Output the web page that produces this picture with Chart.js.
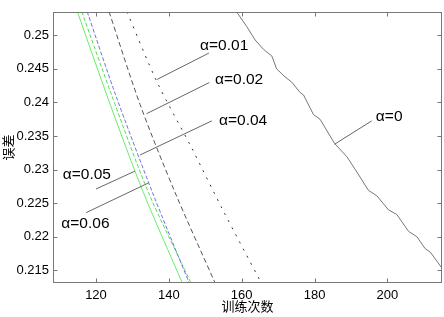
<!DOCTYPE html>
<html lang="zh">
<head>
    <meta charset="UTF-8">
    <title>误差 - 训练次数</title>
    <style>
        html, body { margin: 0; padding: 0; background: #fff; }
        #wrap { width: 444px; height: 317px; }
    </style>
</head>
<body>
    <div id="wrap"><canvas id="errChart" width="444" height="317"></canvas></div>

    <script src="https://cdn.jsdelivr.net/npm/chart.js"></script>
    <script>
        // values: [训练次数, 误差]
        const alpha0 = [
            [158.6, 0.2535], [161.4, 0.2513], [163.7, 0.2493], [166.0, 0.2479],
            [168.3, 0.2469], [169.6, 0.2450], [171.9, 0.2438], [173.8, 0.2430],
            [176.0, 0.2415], [177.0, 0.2411], [179.7, 0.2382], [181.5, 0.2375],
            [185.5, 0.2339], [188.9, 0.2319], [191.2, 0.2300], [194.8, 0.2269],
            [197.1, 0.2261], [200.3, 0.2240], [202.6, 0.2233], [205.8, 0.2208],
            [208.1, 0.2200], [210.4, 0.2182], [211.8, 0.2177], [215.0, 0.2153]
        ];
        const alpha001 = [[128.5, 0.2535], [136.8, 0.2430], [146.1, 0.2334], [155.0, 0.2238], [165.1, 0.2134]];
        const alpha002 = [[123.6, 0.2535], [132.1, 0.2397], [141.7, 0.2266], [152.7, 0.2131]];
        const alpha004 = [[117.6, 0.2535], [125.4, 0.2411], [135.5, 0.2266], [145.6, 0.2131]];
        const alpha005 = [[116.1, 0.2535], [124.3, 0.2411], [134.4, 0.2266], [146.1, 0.2131]];
        const alpha006 = [[114.9, 0.2535], [123.9, 0.2397], [133.0, 0.2266], [143.7, 0.2131]];

        const xTicks = [120, 140, 160, 180, 200];
        const yTicks = [0.215, 0.22, 0.225, 0.23, 0.235, 0.24, 0.245, 0.25];

        // curve labels: text, label centre, pointer start, pointer end (data units)
        const notes = [
            { text: 'α=0',    at: [200.5, 0.23785], from: [195.7, 0.23725], to: [185.5, 0.23377] },
            { text: 'α=0.01', at: [155.2, 0.24851], from: [151.0, 0.24735], to: [136.8, 0.24343] },
            { text: 'α=0.02', at: [159.3, 0.24343], from: [151.1, 0.24296], to: [133.9, 0.23832] },
            { text: 'α=0.04', at: [160.4, 0.23727], from: [151.8, 0.23725], to: [132.1, 0.23217] },
            { text: 'α=0.05', at: [117.5, 0.22923], from: [120.0, 0.22710], to: [130.7, 0.22977] },
            { text: 'α=0.06', at: [117.1, 0.22191], from: [117.3, 0.22358], to: [134.4, 0.22800] }
        ];

        const toPoints = arr => arr.map(p => ({ x: p[0], y: p[1] }));

        function series(data, color, dash, tension) {
            return {
                data: toPoints(data),
                borderColor: color,
                borderWidth: 1,
                borderDash: dash,
                pointRadius: 0,
                tension: tension,
                fill: false
            };
        }

        // matlab style box with inward ticks, plus the curve labels
        const framePlugin = {
            id: 'frame',
            afterDatasetsDraw(chart) {
                const ctx = chart.ctx;
                const a = chart.chartArea;
                const xs = chart.scales.x, ys = chart.scales.y;
                ctx.save();
                ctx.strokeStyle = '#777';
                ctx.lineWidth = 1;
                const l = Math.round(a.left) + 0.5, r = Math.round(a.right) - 0.5;
                const t = Math.round(a.top) + 0.5, b = Math.round(a.bottom) - 0.5;
                ctx.strokeRect(l, t, r - l, b - t);
                ctx.beginPath();
                xTicks.forEach(v => {
                    const px = Math.round(xs.getPixelForValue(v)) + 0.5;
                    ctx.moveTo(px, b); ctx.lineTo(px, b - 4);
                    ctx.moveTo(px, t); ctx.lineTo(px, t + 4);
                });
                yTicks.forEach(v => {
                    const py = Math.round(ys.getPixelForValue(v)) + 0.5;
                    ctx.moveTo(l, py); ctx.lineTo(l + 4, py);
                    ctx.moveTo(r, py); ctx.lineTo(r - 4, py);
                });
                ctx.stroke();

                ctx.strokeStyle = '#666';
                ctx.beginPath();
                notes.forEach(n => {
                    ctx.moveTo(xs.getPixelForValue(n.from[0]), ys.getPixelForValue(n.from[1]));
                    ctx.lineTo(xs.getPixelForValue(n.to[0]), ys.getPixelForValue(n.to[1]));
                });
                ctx.stroke();

                ctx.fillStyle = '#000';
                ctx.font = '15.5px "Liberation Sans", Arial, sans-serif';
                ctx.textAlign = 'center';
                ctx.textBaseline = 'middle';
                notes.forEach(n => {
                    ctx.fillText(n.text, xs.getPixelForValue(n.at[0]), ys.getPixelForValue(n.at[1]));
                });
                ctx.restore();
            }
        };

        const tickFont = { family: '"Liberation Sans", Arial, sans-serif', size: 13 };
        const cjkFont = { family: '"Noto Sans CJK SC", sans-serif', size: 13 };

        new Chart(document.getElementById('errChart').getContext('2d'), {
            type: 'line',
            data: {
                datasets: [
                    series(alpha0, '#777', [], 0),
                    series(alpha001, '#333', [2, 6], 0.3),
                    series(alpha002, '#555', [5, 3], 0.3),
                    series(alpha004, '#7272e6', [4, 2], 0.3),
                    series(alpha005, '#55dd55', [4, 2], 0.3),
                    series(alpha006, '#66ee66', [], 0.3)
                ]
            },
            options: {
                responsive: false,
                animation: false,
                layout: { padding: { top: 4, right: 2, left: 0, bottom: 0 } },
                plugins: { legend: { display: false }, tooltip: { enabled: false } },
                scales: {
                    x: {
                        type: 'linear',
                        min: 108.2,
                        max: 215,
                        afterBuildTicks: axis => { axis.ticks = xTicks.map(v => ({ value: v })); },
                        afterFit: axis => { axis.height = 34; },
                        grid: { display: false, drawTicks: false },
                        border: { display: false },
                        ticks: { color: '#000', font: tickFont, padding: 5, maxRotation: 0 },
                        title: { display: true, text: '训练次数', color: '#000', font: cjkFont, padding: { top: 0, bottom: 3 } }
                    },
                    y: {
                        type: 'linear',
                        min: 0.2131,
                        max: 0.2535,
                        afterBuildTicks: axis => { axis.ticks = yTicks.map(v => ({ value: v })); },
                        afterFit: axis => { axis.width = 53; },
                        grid: { display: false, drawTicks: false },
                        border: { display: false },
                        ticks: { color: '#000', font: tickFont, padding: 4, callback: v => String(+v.toFixed(3)) },
                        title: { display: true, text: '误差', color: '#000', font: cjkFont, padding: 0 }
                    }
                }
            },
            plugins: [framePlugin]
        });
    </script>
</body>
</html>
